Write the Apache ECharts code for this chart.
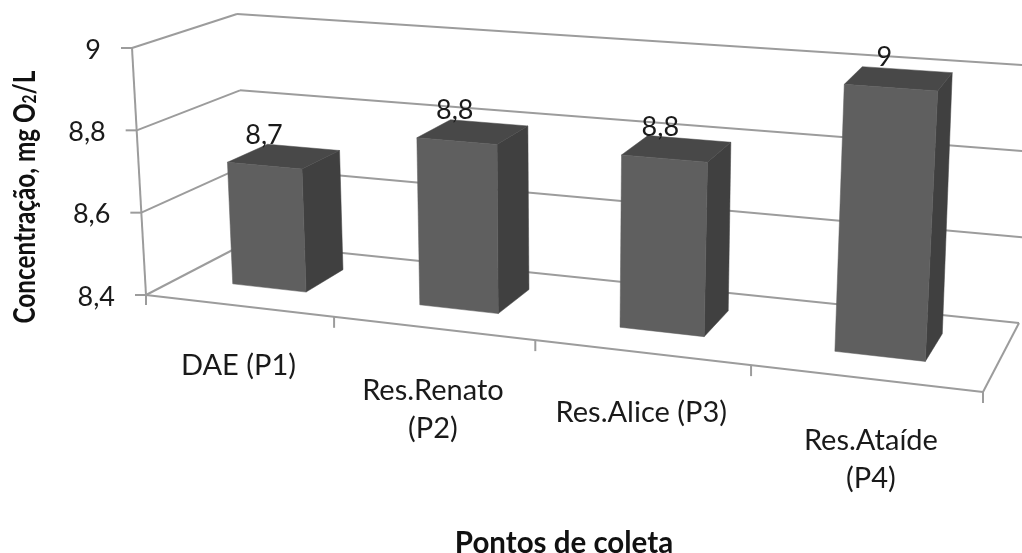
<!DOCTYPE html>
<html>
<head>
<meta charset="utf-8">
<style>html,body{margin:0;padding:0;background:#fff}#chart{width:1022px;height:553px}</style>
<script src="https://cdn.jsdelivr.net/npm/echarts@6/dist/echarts.min.js"></script>
</head>
<body>
<div id="chart"></div>
<script>
const categories = ['DAE (P1)', 'Res.Renato\n(P2)', 'Res.Alice (P3)', 'Res.Ataíde\n(P4)'];
const concentration = [8.7, 8.8, 8.8, 9];
const valueTicks = [8.4, 8.6, 8.8, 9];
const valueTickLabels = ['8,4', '8,6', '8,8', '9'];
const valueLabels = ['8,7', '8,8', '8,8', '9'];

// Plot rectangle of the flat cartesian system; every mark is read through it
const plot = { left: 146, top: 72, width: 836, height: 250 };

// Corners of the perspective box the flat plot is folded into
const box = {
  frontBottomLeft: [146, 295], frontBottomRight: [983, 392],
  backBottomLeft: [246, 243], backBottomRight: [1019, 323],
  frontTopLeft: [132, 48], frontTopRight: [1000, 111],
  backTopLeft: [237, 14], backTopRight: [1029, 65.5]
};
const foreshortening = 0.15;
const barFrontDepth = 0.33;
const barBackDepth = 0.74;
const barWidthRatio = 0.4;

const LINE = '#9c9c9c';
const FONT = 'Lato';
const TEXT = '#1a1a1a';

const mix = (a, b, t) => [a[0] + (b[0] - a[0]) * t, a[1] + (b[1] - a[1]) * t];

// u: along the categories, v: along the values, w: front to back (all 0..1)
function project(u, v, w) {
  const s = u / (1 + foreshortening * (1 - u));
  const bottom = mix(mix(box.frontBottomLeft, box.frontBottomRight, s), mix(box.backBottomLeft, box.backBottomRight, s), w);
  const top = mix(mix(box.frontTopLeft, box.frontTopRight, s), mix(box.backTopLeft, box.backTopRight, s), w);
  return mix(bottom, top, v);
}
const unitU = px => (px - plot.left) / plot.width;
const unitV = py => (plot.top + plot.height - py) / plot.height;

const line = (a, b) => ({
  type: 'line',
  shape: { x1: a[0], y1: a[1], x2: b[0], y2: b[1] },
  style: { stroke: LINE, lineWidth: 2 }
});
const face = (points, fill) => ({
  type: 'polygon',
  shape: { points },
  style: { fill, stroke: fill, lineWidth: 0.5 }
});
const label = (text, x, y, align, size) => ({
  type: 'text',
  x, y,
  style: { text, fill: TEXT, font: `${size}px ${FONT}`, align, verticalAlign: 'middle', lineHeight: 38 }
});

// Gridlines on the left and back walls, value ticks and value tick labels
function renderValueTick(params, api) {
  const v = unitV(api.coord([0, api.value(1)])[1]);
  const front = project(0, v, 0);
  const children = [
    line(front, project(0, v, 1)),
    line(project(0, v, 1), project(1, v, 1)),
    line(front, [front[0] - 11, front[1]]),
    label(valueTickLabels[params.dataIndex], front[0] - 31, front[1] + 2, 'right', 27)
  ];
  if (params.dataIndex === 0) {
    children.push(line(front, project(1, 0, 0)), line(project(1, 0, 0), project(1, 0, 1)));
    children.push(line(front, project(0, 1, 0)));
    children.push(line(front, [front[0], front[1] + 10]));
  }
  return { type: 'group', children };
}

// Category ticks along the front of the floor and the category labels
function renderCategoryTick(params, api) {
  const centre = api.coord([api.value(0), valueTicks[0]]);
  const band = api.size([1, 0])[0];
  const edge = project(unitU(centre[0] + band / 2), 0, 0);
  const mid = project(unitU(centre[0]), 0, 0);
  const text = categories[params.dataIndex];
  const twoLines = text.indexOf('\n') >= 0;
  return {
    type: 'group',
    children: [
      line(edge, [edge[0], edge[1] + 11]),
      label(text, mid[0] + (params.dataIndex === 3 ? 6 : 0), mid[1] + (twoLines ? 81 : 60), 'center', 29)
    ]
  };
}

// One box per category: front, side and top faces plus the value label
function renderBar(params, api) {
  const top = api.coord([api.value(0), api.value(1)]);
  const base = api.coord([api.value(0), valueTicks[0]]);
  const half = api.size([1, 0])[0] * barWidthRatio / 2;
  const uL = unitU(top[0] - half), uR = unitU(top[0] + half);
  const v0 = unitV(base[1]), v1 = unitV(top[1]);
  const fBL = project(uL, v0, barFrontDepth), fBR = project(uR, v0, barFrontDepth);
  const fTL = project(uL, v1, barFrontDepth), fTR = project(uR, v1, barFrontDepth);
  const bBR = project(uR, v0, barBackDepth);
  const bTL = project(uL, v1, barBackDepth), bTR = project(uR, v1, barBackDepth);
  const cx = (fTL[0] + fTR[0] + bTL[0] + bTR[0]) / 4;
  const cy = (fTL[1] + fTR[1] + bTL[1] + bTR[1]) / 4;
  return {
    type: 'group',
    children: [
      face([fTR, bTR, bBR, fBR], '#404040'),
      face([fTL, bTL, bTR, fTR], '#484848'),
      face([fBL, fTL, fTR, fBR], '#5f5f5f'),
      label(valueLabels[params.dataIndex], cx - 21 + 7 * unitU(top[0]), cy - 21.5, 'center', 27)
    ]
  };
}

const chart = echarts.init(document.getElementById('chart'), null, { renderer: 'canvas' });
chart.setOption({
  animation: false,
  backgroundColor: '#ffffff',
  grid: { left: plot.left, top: plot.top, width: plot.width, height: plot.height, outerBoundsMode: 'none' },
  xAxis: {
    type: 'category',
    data: categories,
    axisLine: { show: false }, axisTick: { show: false }, axisLabel: { show: false }, splitLine: { show: false },
    name: 'Pontos de coleta',
    nameLocation: 'middle',
    nameGap: 206,
    nameTextStyle: { fontFamily: FONT, fontWeight: 'bold', fontSize: 29.5, color: '#111' }
  },
  yAxis: {
    type: 'value',
    min: 8.4, max: 9, interval: 0.2,
    axisLine: { show: false }, axisTick: { show: false }, axisLabel: { show: false }, splitLine: { show: false }
  },
  // Vertical axis title, narrowed along its length
  graphic: [{
    type: 'text',
    x: 25, y: 197,
    rotation: Math.PI / 2,
    scaleX: 0.81,
    style: {
      text: '{t|Concentração, mg O}{s|2}{t|/L}',
      align: 'center',
      verticalAlign: 'middle',
      rich: {
        t: { fontFamily: FONT, fontWeight: 'bold', fontSize: 30, fill: '#111', color: '#111' },
        s: { fontFamily: FONT, fontWeight: 'bold', fontSize: 19, fill: '#111', color: '#111', padding: [10, 0, 0, 0] }
      }
    }
  }],
  series: [
    { type: 'custom', renderItem: renderValueTick, data: valueTicks.map(t => [0, t]), silent: true, z: 1 },
    { type: 'custom', renderItem: renderCategoryTick, data: categories.map((c, i) => [i, valueTicks[0]]), silent: true, z: 1 },
    { type: 'custom', renderItem: renderBar, data: concentration.map((v, i) => [i, v]), silent: true, z: 2 }
  ]
});
</script>
</body>
</html>
